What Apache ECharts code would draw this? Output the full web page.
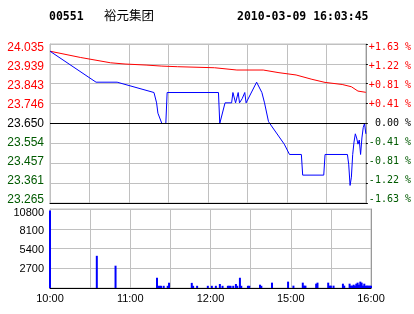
<!DOCTYPE html>
<html>
<head>
<meta charset="utf-8">
<script src="https://cdn.jsdelivr.net/npm/echarts@6/dist/echarts.min.js"></script>
<style>html,body{margin:0;padding:0;background:#fff;}#c{width:414px;height:314px;}</style>
</head>
<body>
<div id="c"></div>
<script>
// ---- data ----
var stockCode = '00551';
var stockName = '裕元集团';
var stamp = '2010-03-09 16:03:45';
var prevClose = 23.65;

var priceLabels = ['23.265','23.361','23.457','23.554','23.650','23.746','23.843','23.939','24.035'];
var pctLabels = ['-1.63 %','-1.22 %','-0.81 %','-0.41 %',' 0.00 %','+0.41 %','+0.81 %','+1.22 %','+1.63 %'];
var volLabels = ['', '2700', '5400', '8100', '10800'];
var timeLabels = ['10:00', '', '11:00', '', '12:00', '', '15:00', '', '16:00'];

var priceMinutes = [0,35,51,79,80,81,82,85,88,89,128,129,133,138,139,140,141,143,144,146,148,149,157,161,163,166,167,178,182,191,192,208,209,226,227,228,229,230,231,232,233,234,235,236,237,238,239,240];
var priceValues  = [24.00,23.85,23.85,23.80,23.80,23.75,23.70,23.65,23.65,23.80,23.80,23.65,23.75,23.75,23.80,23.80,23.75,23.80,23.75,23.77,23.80,23.75,23.85,23.80,23.75,23.66,23.65,23.55,23.50,23.50,23.40,23.40,23.50,23.50,23.45,23.35,23.39,23.50,23.56,23.60,23.58,23.55,23.57,23.50,23.58,23.63,23.65,23.60];

var avgMinutes = [0,23,46,57,73,85,97,125,142,162,174,187,199,209,222,229,234,240];
var avgValues  = [24.00,23.97,23.944,23.938,23.933,23.928,23.925,23.92,23.909,23.909,23.896,23.885,23.864,23.849,23.839,23.828,23.807,23.801];

var volMinutes = [0,35,49,80,81,82,83,85,88,89,106,107,110,118,121,124,127,129,133,134,135,137,139,140,142,143,148,149,157,158,166,178,182,189,190,191,199,200,208,209,210,212,219,220,224,225,226,227,228,229,230,231,232,233,234,235,236,237,238,239,240];
var volValues  = [10600,4400,3050,1400,300,300,300,300,300,720,700,300,300,300,300,300,550,300,300,300,300,300,550,300,1400,300,300,300,450,300,730,870,320,730,320,320,590,730,730,320,320,320,590,320,590,320,320,450,320,590,730,450,870,730,320,590,320,320,320,320,320];

// ---- chart ----
var PMIN = 23.265, PMAX = 24.035, PINT = 0.09625;
function idxOf(v){ return Math.round((v - PMIN) / PINT); }
function colOf(i){ return i > 4 ? '#ff0000' : (i === 4 ? '#000000' : '#005a00'); }
function zip(a, b){ return a.map(function(x, i){ return [x, b[i]]; }); }

// rich styles: labels sit slightly inside the plot toward its centre
function makeRich(n, topShift, step, family, size, colorFn){
  var rich = {};
  for (var i = 0; i < n; i++) {
    var d = topShift - step * (n - 1 - i); // i counts from bottom
    var p = d >= 0 ? [Math.round(d * 2), 0, 0, 0] : [0, 0, Math.round(-d * 2), 0];
    rich['r' + i] = {padding: p, fontFamily: family, fontSize: size, color: colorFn(i)};
  }
  return rich;
}
var priceRichL = makeRich(9, 3.4, 0.84, 'Liberation Sans', 12, colOf);
var priceRichR = makeRich(9, 3.4, 0.84, 'DejaVu Sans Mono', 10, colOf);
var volRich = makeRich(5, 3.4, 0.9, 'Liberation Sans', 11, function(){ return '#000'; });

var grid = '#c0c0c0';
var chart = echarts.init(document.getElementById('c'), null, {renderer: 'canvas'});
chart.setOption({
  animation: false,
  backgroundColor: '#ffffff',
  title: [
    {text: stockCode, left: 49, top: 11, padding: 0, textStyle: {fontFamily: 'DejaVu Sans Mono', fontWeight: 'bold', fontSize: 11.5, color: '#000'}},
    {text: stockName, left: 104, top: 9, padding: 0, textStyle: {fontFamily: 'Noto Sans CJK SC', fontWeight: 'normal', fontSize: 12.5, color: '#000'}},
    {text: stamp, left: 237, top: 11, padding: 0, textStyle: {fontFamily: 'DejaVu Sans Mono', fontWeight: 'bold', fontSize: 11.5, color: '#000'}}
  ],
  grid: [
    {left: 50, top: 44, width: 321, height: 159, show: true, borderColor: grid, borderWidth: 1, containLabel: false},
    {left: 50, top: 209, width: 321, height: 79, show: true, borderColor: grid, borderWidth: 1, containLabel: false}
  ],
  xAxis: [
    {gridIndex: 0, type: 'value', min: 0, max: 240, interval: 30,
     axisLine: {show: true, onZero: false, lineStyle: {color: '#000', width: 1}},
     axisTick: {show: false}, axisLabel: {show: false},
     splitLine: {show: true, lineStyle: {color: grid, width: 1}}},
    {gridIndex: 1, type: 'value', min: 0, max: 240, interval: 30,
     axisLine: {show: true, onZero: false, lineStyle: {color: '#000', width: 1}},
     axisTick: {show: false},
     axisLabel: {show: true, margin: 5, color: '#000', fontFamily: 'Liberation Sans', fontSize: 11,
       formatter: function(v){ return timeLabels[Math.round(v / 30)] || ''; }},
     splitLine: {show: true, lineStyle: {color: grid, width: 1}}}
  ],
  yAxis: [
    {gridIndex: 0, type: 'value', min: PMIN, max: PMAX, interval: PINT, position: 'left',
     axisLine: {show: true, lineStyle: {color: grid}}, axisTick: {show: false},
     axisLabel: {show: true, margin: 6, fontFamily: 'Liberation Sans', fontSize: 12, rich: priceRichL,
       formatter: function(v){ var i = idxOf(v); return '{r' + i + '|' + (priceLabels[i] || '') + '}'; }},
     splitLine: {show: true, lineStyle: {color: grid, width: 1}}},
    {gridIndex: 0, type: 'value', min: PMIN, max: PMAX, interval: PINT, position: 'right',
     axisLine: {show: true, lineStyle: {color: '#999'}},
     axisTick: {show: true, length: 2, lineStyle: {color: '#000'}},
     axisLabel: {show: true, margin: 3, fontFamily: 'DejaVu Sans Mono', fontSize: 10, rich: priceRichR,
       formatter: function(v){ var i = idxOf(v); return '{r' + i + '|' + (pctLabels[i] || '') + '}'; }},
     splitLine: {show: false}},
    {gridIndex: 1, type: 'value', min: 0, max: 10800, interval: 2700, position: 'left',
     axisLine: {show: true, lineStyle: {color: grid}}, axisTick: {show: false},
     axisLabel: {show: true, margin: 6, color: '#000', fontFamily: 'Liberation Sans', fontSize: 11, rich: volRich,
       formatter: function(v){ var i = Math.round(v / 2700); return volLabels[i] ? '{r' + i + '|' + volLabels[i] + '}' : ''; }},
     splitLine: {show: true, lineStyle: {color: grid, width: 1}}},
    {gridIndex: 1, type: 'value', min: 0, max: 10800, interval: 2700, position: 'right',
     axisLine: {show: true, lineStyle: {color: '#999'}}, axisTick: {show: false},
     axisLabel: {show: false}, splitLine: {show: false}}
  ],
  series: [
    {type: 'line', xAxisIndex: 0, yAxisIndex: 0, data: zip(avgMinutes, avgValues),
     showSymbol: false, symbol: 'none', lineStyle: {color: '#ff0000', width: 1}, itemStyle: {color: '#ff0000'}, z: 3},
    {type: 'line', xAxisIndex: 0, yAxisIndex: 0, data: zip(priceMinutes, priceValues),
     showSymbol: false, symbol: 'none', lineStyle: {color: '#0000ff', width: 1}, itemStyle: {color: '#0000ff'}, z: 4,
     markLine: {silent: true, symbol: 'none', label: {show: false},
       lineStyle: {color: '#000', type: 'solid', width: 1},
       data: [{yAxis: prevClose}]}},
    {type: 'bar', xAxisIndex: 1, yAxisIndex: 2, data: zip(volMinutes, volValues),
     barWidth: 2, clip: false, itemStyle: {color: '#0000ff'}, z: 5}
  ]
});
</script>
</body>
</html>
